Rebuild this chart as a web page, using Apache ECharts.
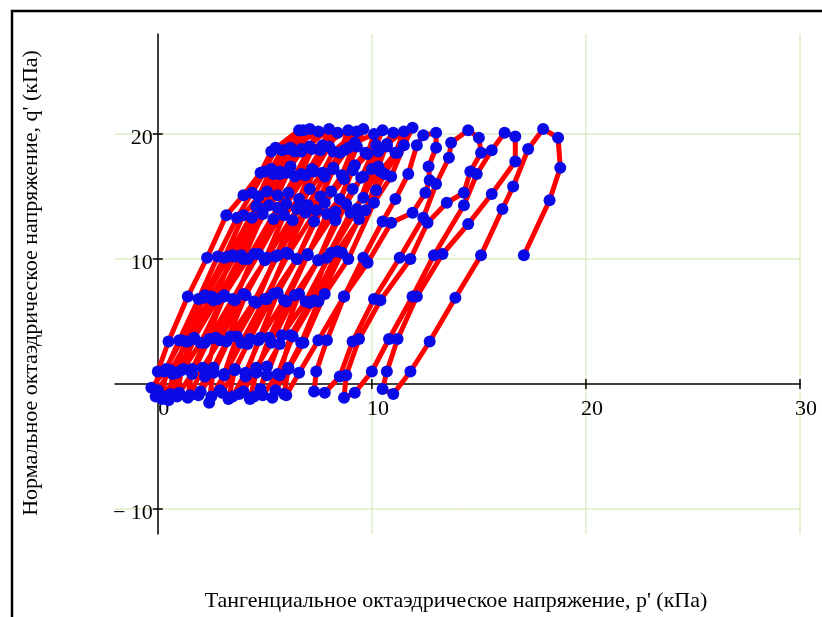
<!DOCTYPE html>
<html>
<head>
<meta charset="utf-8">
<script src="https://cdn.jsdelivr.net/npm/echarts@6/dist/echarts.min.js"></script>
<style>
html,body{margin:0;padding:0;background:#fff;}
#chart{width:822px;height:617px;}
</style>
</head>
<body>
<div id="chart"></div>
<script>
// ---- data: trajectory of p' (x) and q' (y), one array per loading cycle ----
const cycle01 = [[17.1,10.3],[18.3,14.7],[18.8,17.3],[18.7,19.7],[18.0,20.4],[17.3,18.8],[16.6,15.8],[16.1,14.0],[15.1,10.3],[13.9,6.9],[12.7,3.4],[11.8,1.0],[11.0,-0.8]];
const cycle02 = [[10.5,-0.4],[10.7,1.0],[11.2,3.6],[12.1,7.0],[13.3,10.4],[14.5,12.8],[15.6,15.2],[16.7,17.8],[16.7,19.8],[16.2,20.1],[15.6,18.7],[14.9,16.8],[14.3,14.3],[12.9,10.3],[11.9,7.0],[10.8,3.6],[10.0,1.0],[9.2,-0.7]];
const cycle03 = [[8.7,-1.1],[8.8,0.7],[9.4,3.6],[10.4,6.7],[11.8,10.0],[12.6,12.9],[13.5,14.5],[14.3,15.3],[14.6,17.0],[15.1,18.5],[15.0,19.7],[14.5,20.3],[13.7,19.3],[13.6,18.1],[13.0,16.0],[12.4,13.3],[11.3,10.1],[10.1,6.8],[9.1,3.4],[8.5,0.6],[7.8,-0.7]];
const cycle04 = [[7.3,-0.6],[7.4,1.0],[7.9,3.5],[8.7,7.0],[9.8,9.7],[10.9,12.9],[11.9,13.7],[12.5,15.3],[12.7,16.3],[12.65,17.4],[13.0,18.9],[13.0,20.1],[12.4,19.9],[12.1,19.1],[11.7,16.8],[11.1,14.8],[10.5,13.0],[9.6,10.1],[8.7,7.0],[7.5,3.5],[6.6,0.9],[6.0,-0.9]];
const cycle05 = [[5.9,-0.8],[6.1,1.3],[6.7,3.3],[7.5,6.6],[8.6,10.5],[9.4,13.2],[10.2,15.5],[10.6,16.8],[11.2,18.5],[11.9,20.5],[11.5,19.1],[10.9,16.6],[10.1,14.5],[8.9,10.0],[7.8,7.2],[6.8,3.3],[6.1,1.2],[5.5,-0.5]];
const cycle06 = [[5.35,-1.1],[5.7,0.7],[6.2,3.9],[7.1,6.5],[7.9,10.1],[9.0,13.7],[9.6,14.9],[10.3,17.4],[10.7,19.2],[11.5,20.2],[11.1,18.5],[10.4,17.0],[9.7,13.9],[8.4,10.6],[7.3,6.7],[6.3,3.8],[5.6,0.8],[4.9,-0.9]];
const cycle07 = [[4.8,-0.4],[5.1,1.4],[5.7,3.2],[6.6,7.2],[7.5,9.9],[8.3,13.1],[9.1,15.6],[9.6,16.6],[10.3,18.6],[11.0,20.1],[10.7,19.0],[10.0,17.2],[9.3,14.0],[8.1,10.5],[6.9,6.6],[5.8,3.9],[5.1,0.7],[4.5,-1.0]];
const cycle08 = [[4.3,-1.2],[4.6,0.9],[5.2,3.7],[6.0,6.6],[7.0,10.3],[7.9,13.6],[8.5,14.8],[9.2,17.5],[9.7,18.5],[10.5,20.3],[10.2,19.1],[9.5,16.5],[8.8,14.4],[7.5,9.9],[6.4,7.1],[5.3,3.3],[4.6,1.3],[4.0,-0.6]];
const cycle09 = [[3.8,-0.8],[4.1,0.6],[4.7,3.5],[5.6,7.3],[6.5,10.0],[7.3,13.0],[8.1,15.4],[8.6,16.7],[9.2,19.3],[10.1,20.0],[9.8,18.4],[9.1,17.1],[8.3,13.8],[7.0,10.4],[5.9,6.7],[4.8,3.7],[4.1,0.9],[3.5,-1.0]];
const cycle10 = [[3.3,-1.2],[3.6,1.2],[4.2,3.2],[5.1,6.8],[6.0,10.5],[6.9,13.7],[7.6,15.0],[8.2,17.3],[8.7,18.7],[9.6,20.4],[9.3,19.0],[8.7,16.4],[7.8,14.5],[6.5,10.0],[5.4,7.2],[4.3,3.6],[3.6,1.1],[3.0,-0.7]];
const cycle11 = [[2.9,-0.5],[3.1,0.8],[3.7,3.8],[4.6,6.5],[5.5,10.2],[6.3,13.1],[7.1,15.6],[7.7,16.9],[8.2,18.6],[9.3,20.2],[8.9,18.9],[8.2,17.2],[7.4,13.9],[6.1,10.4],[5.0,6.8],[3.9,3.3],[3.1,0.7],[2.5,-1.0]];
const cycle12 = [[2.4,-1.5],[2.6,1.3],[3.2,3.4],[4.1,7.1],[5.0,9.9],[5.9,13.5],[6.6,14.8],[7.2,17.2],[7.7,19.1],[8.9,20.3],[8.5,18.5],[7.8,16.6],[7.0,14.3],[5.6,10.3],[4.5,6.6],[3.4,3.8],[2.6,0.9],[2.0,-0.6]];
const cycle13 = [[1.9,-0.9],[2.2,0.6],[2.7,3.7],[3.6,6.7],[4.5,10.4],[5.4,13.2],[6.1,15.3],[6.7,16.8],[7.2,18.8],[8.4,20.1],[8.0,19.0],[7.3,17.0],[6.5,14.0],[5.1,10.1],[4.0,7.2],[2.9,3.5],[2.1,1.3],[1.5,-0.9]];
const cycle14 = [[1.4,-1.1],[1.6,1.2],[2.2,3.3],[3.1,7.0],[4.0,10.0],[4.9,13.6],[5.6,15.1],[6.2,17.4],[6.7,18.6],[8.0,20.4],[7.6,18.7],[6.9,16.7],[6.0,14.4],[4.7,10.4],[3.5,6.8],[2.4,3.6],[1.6,0.8],[1.0,-0.7]];
const cycle15 = [[0.9,-1.0],[1.1,1.1],[1.7,3.6],[2.6,6.7],[3.5,10.3],[4.4,13.3],[5.1,15.4],[5.7,17.0],[6.2,18.9],[7.5,20.2],[7.1,19.0],[6.4,16.6],[5.6,14.1],[4.2,10.0],[3.1,7.1],[2.0,3.3],[1.2,1.2],[0.6,-0.8]];
const cycle16 = [[0.5,-1.3],[0.7,0.8],[1.3,3.4],[2.2,7.1],[3.1,10.1],[4.0,13.5],[4.7,15.0],[5.3,17.2],[5.8,18.7],[7.1,20.4],[6.7,18.8],[6.0,16.9],[5.2,14.3],[3.9,10.3],[2.8,6.8],[1.7,3.7],[0.9,0.9],[0.3,-1.0]];
const cycle17 = [[0.2,-1.2],[0.4,1.2],[1.0,3.5],[1.9,6.8],[2.8,10.2],[3.7,13.3],[4.4,15.3],[5.0,17.0],[5.5,18.9],[6.8,20.3],[6.4,18.6],[5.7,16.8],[4.9,14.0],[3.6,10.2],[2.5,7.0],[1.4,3.4],[0.6,1.1],[0.0,-0.5]];
const cycle18 = [[-0.1,-1.0],[0.0,1.0],[0.5,3.4],[1.4,7.0],[2.3,10.1],[3.2,13.5],[4.0,15.1],[4.8,16.9],[5.3,18.6],[6.6,20.3],[6.1,18.8],[5.4,16.8],[4.6,14.2],[3.3,10.2],[2.2,6.9],[1.1,3.5],[0.3,1.0],[-0.3,-0.3]];

const xTickValues = [10, 20, 30];
const yTickValues = [-10, 10, 20];
const xLabelValues = [0, 10, 20, 30];
const yLabelValues = [-10, 10, 20];
const xGridValues = [10, 20, 30];
const yGridValues = [-10, 10, 20];
const xTitle = "Тангенциальное октаэдрическое напряжение, p' (кПа)";
const yTitle = "Нормальное октаэдрическое напряжение, q' (кПа)";

const path = [].concat(cycle01, cycle02, cycle03, cycle04, cycle05, cycle06, cycle07, cycle08, cycle09,
  cycle10, cycle11, cycle12, cycle13, cycle14, cycle15, cycle16, cycle17, cycle18);

const FONT = '"Liberation Serif", "Times New Roman", serif';
const chart = echarts.init(document.getElementById('chart'), null, {renderer: 'canvas'});

function labelText(v) { return v < 0 ? '\u2212 ' + Math.abs(v) : String(v); }

chart.setOption({
  animation: false,
  backgroundColor: '#ffffff',
  grid: {left: 115, right: 22, top: 34, bottom: 83, containLabel: false},
  xAxis: {
    type: 'value', min: -2, max: 30,
    axisLine: {onZero: true, lineStyle: {color: '#000', width: 1.5}},
    axisTick: {show: false}, splitLine: {show: false}, axisLabel: {show: false}
  },
  yAxis: {
    type: 'value', min: -12, max: 28,
    axisLine: {onZero: true, lineStyle: {color: '#000', width: 1.5}},
    axisTick: {show: false}, splitLine: {show: false}, axisLabel: {show: false}
  },
  graphic: [
    {type: 'rect', silent: true, shape: {x: 12, y: 11, width: 840, height: 660},
     style: {fill: null, stroke: '#000', lineWidth: 2.5}},
    {type: 'text', silent: true, x: 456, y: 601,
     style: {text: xTitle, font: '22px ' + FONT, fill: '#000', textAlign: 'center', textVerticalAlign: 'middle'}},
    {type: 'text', silent: true, x: 31, y: 283, rotation: Math.PI / 2,
     style: {text: yTitle, font: '22px ' + FONT, fill: '#000', textAlign: 'center', textVerticalAlign: 'middle'}}
  ],
  series: [
    {
      type: 'custom', silent: true, z: 0,
      data: xGridValues.map(v => [v, 0]),
      renderItem: function (params, api) {
        const c = api.coord([api.value(0), api.value(1)]);
        const cs = params.coordSys;
        return {type: 'line', shape: {x1: c[0], y1: cs.y, x2: c[0], y2: cs.y + cs.height},
          style: {stroke: '#c8e6a8', lineWidth: 1}};
      }
    },
    {
      type: 'custom', silent: true, z: 0,
      data: yGridValues.map(v => [0, v]),
      renderItem: function (params, api) {
        const c = api.coord([api.value(0), api.value(1)]);
        const cs = params.coordSys;
        return {type: 'line', shape: {x1: cs.x, y1: c[1], x2: cs.x + cs.width, y2: c[1]},
          style: {stroke: '#c8e6a8', lineWidth: 1}};
      }
    },
    {
      type: 'custom', silent: true, z: 1,
      data: xTickValues.map(v => [v, 0]),
      renderItem: function (params, api) {
        const c = api.coord([api.value(0), api.value(1)]);
        return {type: 'line', shape: {x1: c[0], y1: c[1] - 5, x2: c[0], y2: c[1] + 5},
          style: {stroke: '#000', lineWidth: 1.5}};
      }
    },
    {
      type: 'custom', silent: true, z: 1,
      data: yTickValues.map(v => [0, v]),
      renderItem: function (params, api) {
        const c = api.coord([api.value(0), api.value(1)]);
        return {type: 'line', shape: {x1: c[0] - 5, y1: c[1], x2: c[0] + 5, y2: c[1]},
          style: {stroke: '#000', lineWidth: 1.5}};
      }
    },
    {
      type: 'custom', silent: true, z: 1,
      data: xLabelValues.map(v => [v, 0]),
      renderItem: function (params, api) {
        const v = api.value(0);
        const c = api.coord([v, api.value(1)]);
        return {type: 'text', x: c[0] + 6, y: c[1] + 25,
          style: {text: labelText(v), font: '22px ' + FONT, fill: '#000', align: 'center', verticalAlign: 'middle'}};
      }
    },
    {
      type: 'custom', silent: true, z: 1,
      data: yLabelValues.map(v => [0, v]),
      renderItem: function (params, api) {
        const v = api.value(1);
        const c = api.coord([api.value(0), v]);
        return {type: 'text', x: c[0] - 5, y: c[1] + 4,
          style: {text: labelText(v), font: '22px ' + FONT, fill: '#000', align: 'right', verticalAlign: 'middle'}};
      }
    },
    {
      type: 'line', z: 3,
      data: path,
      symbol: 'circle', symbolSize: 12, showSymbol: true, showAllSymbol: true,
      lineStyle: {color: '#ff0000', width: 5},
      itemStyle: {color: '#0a0ae6'},
      emphasis: {disabled: true}
    }
  ]
});
</script>
</body>
</html>
